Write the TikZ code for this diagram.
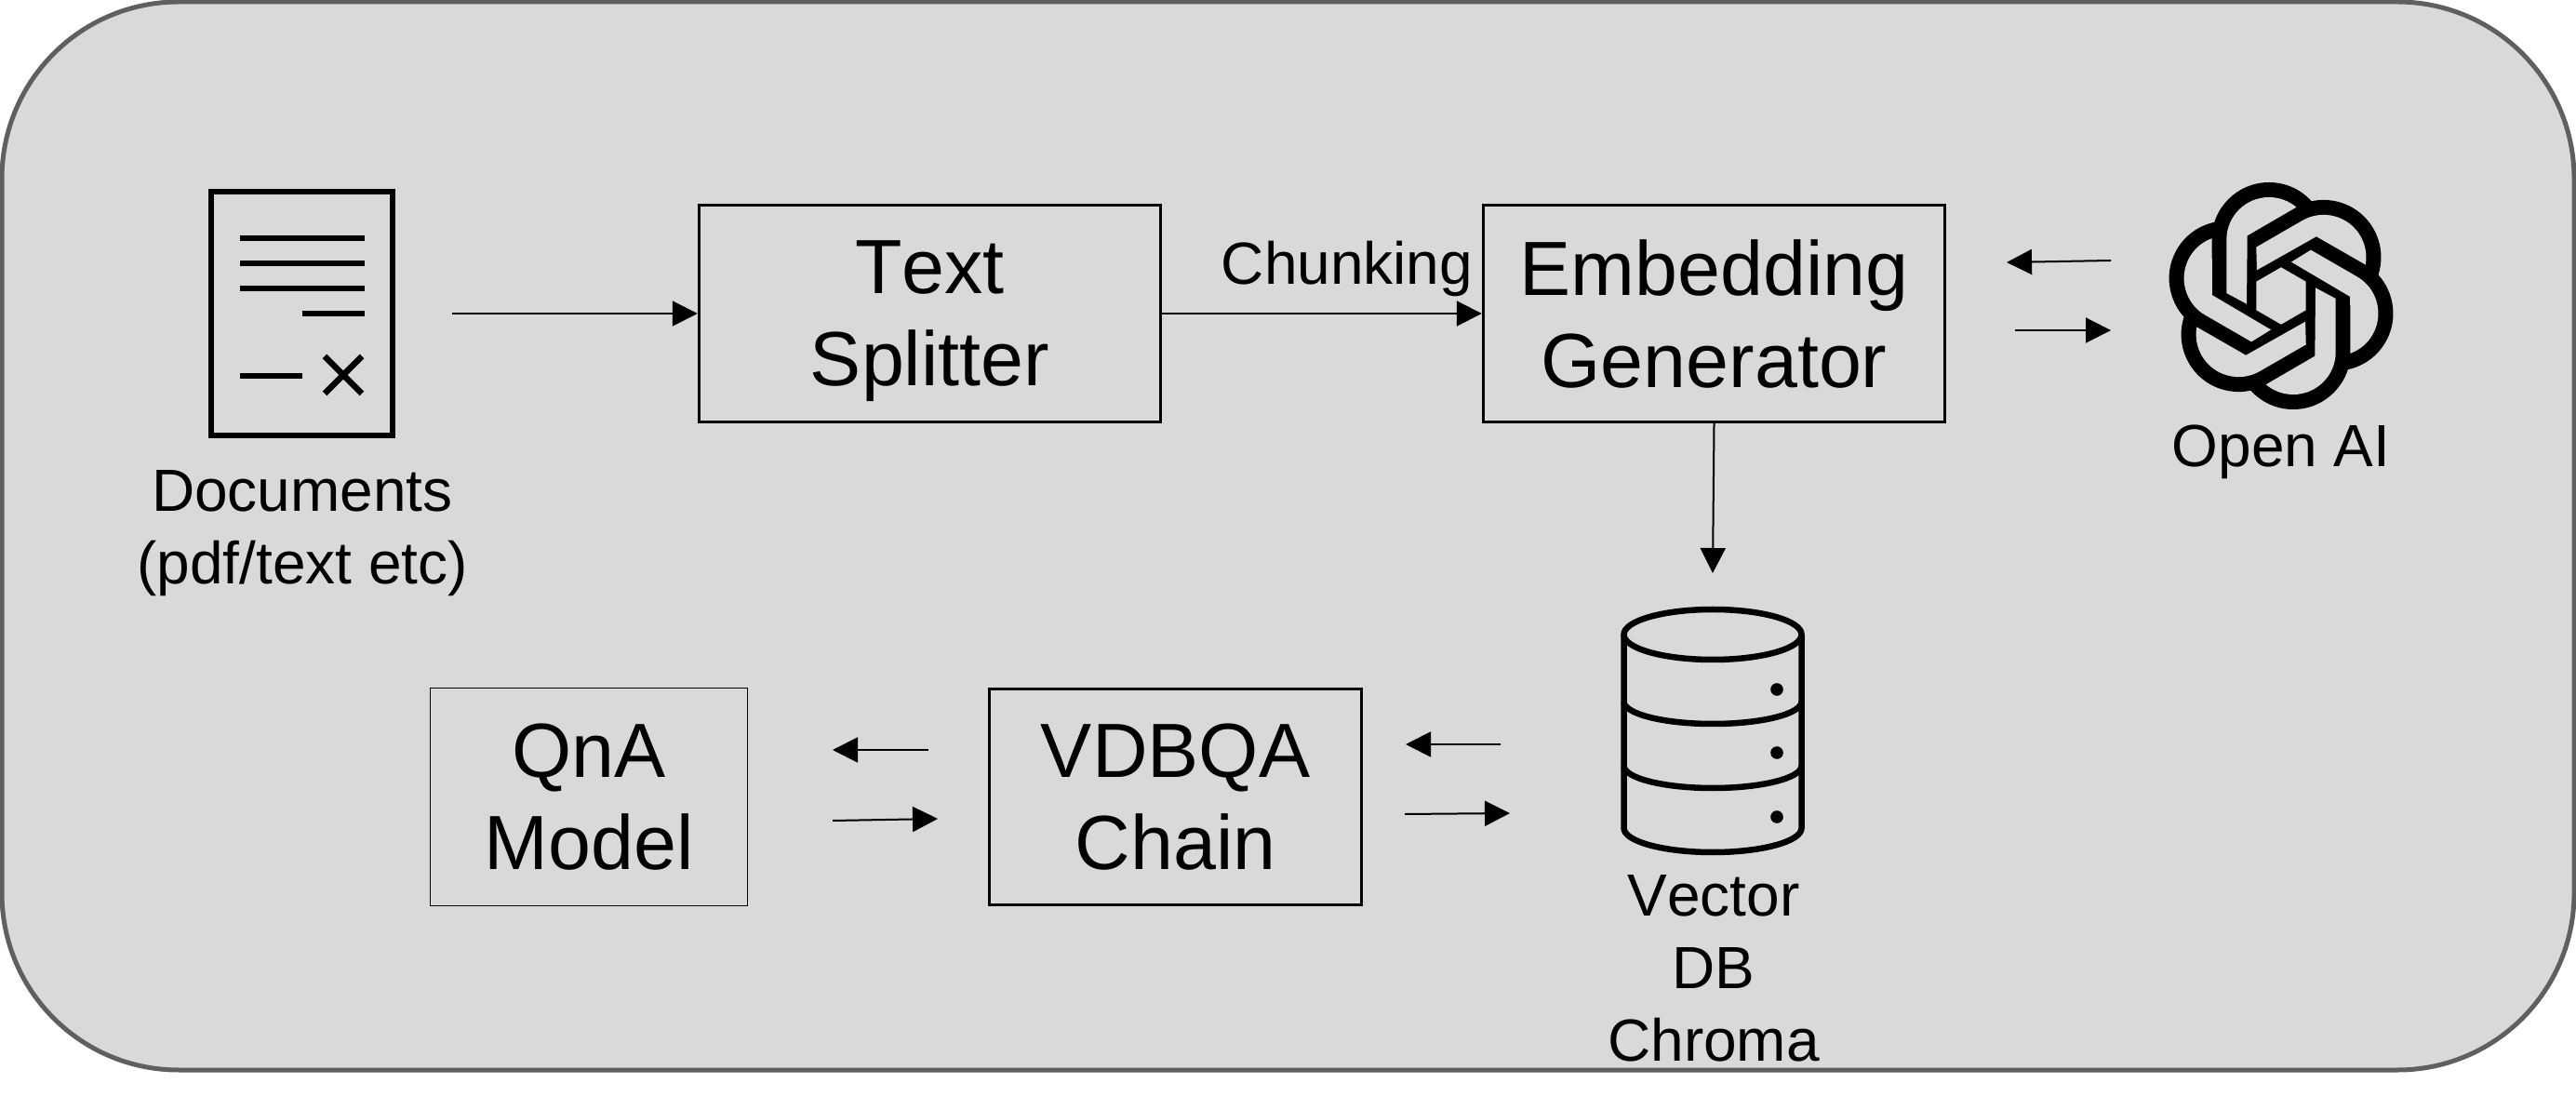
\documentclass[tikz,border=0pt]{standalone}
\usepackage{fontspec}
\setmainfont[Kerning=Off]{Liberation Sans}
\usetikzlibrary{arrows.meta}
\definecolor{panelgray}{HTML}{D9D9D9}
\definecolor{panelline}{HTML}{5F5F5F}
\tikzset{
  stepbox/.style={draw,line width=0.03cm,inner sep=0pt,align=center,text depth=0pt,font=\fontsize{23.5}{28.2}\selectfont},
  caption/.style={inner sep=0pt,align=center,font=\fontsize{18.2}{22.2}\selectfont},
  flow/.style={-{Triangle[length=0.27cm,width=0.27cm]},line width=0.02cm},
  icon/.style={line width=0.065cm}
}
\begin{document}
\begin{tikzpicture}
  \useasboundingbox (0,0) rectangle (27.69,11.92);
  \draw[fill=panelgray,draw=panelline,line width=0.05cm,rounded corners=1.9cm](0.02,0.42) rectangle (27.67,11.9);
  % document icon
  \node[draw,icon,minimum width=1.95cm,minimum height=2.62cm,inner sep=0pt] (doc) at (3.245,8.55){};
  \foreach \y in {9.36,9.09,8.82}
    \draw[icon] (2.58,\y)--(3.92,\y);
  \draw[icon] (3.25,8.55)--(3.92,8.55);
  \draw[icon] (2.58,7.88)--(3.25,7.88);
  \draw[icon] (3.49,8.09)--(3.89,7.69);
  \draw[icon] (3.49,7.69)--(3.89,8.09);
  \node[caption] (doclabel) at (3.25,6.19){Documents\\(pdf/text etc)};
  % boxes
  \node[stepbox,minimum width=4.965cm,minimum height=2.33cm] (splitter) at (9.995,8.55){Text\\Splitter};
  \node[stepbox,minimum width=4.965cm,minimum height=2.33cm] (embedding) at (18.425,8.55){Embedding\\Generator};
  \node[stepbox,minimum width=4.0cm,minimum height=2.32cm] (chain) at (12.635,3.355){VDBQA\\Chain};
  \node[stepbox,line width=0.01cm,minimum width=3.41cm,minimum height=2.33cm] (qna) at (6.33,3.355){QnA\\Model};
  \node[caption] (chunking) at (14.48,9.03){Chunking};
  % open ai logo
  \begin{scope}[shift={(24.52,8.74)}]
    \foreach \a in {0,60,...,300}
      \fill[rotate=\a] (-0.13,0.603) circle (0.617);
    \foreach \a in {0,60,...,300}
      \fill[panelgray,rotate=\a] (-0.587,0.03)--(-0.587,0.603) arc[start angle=180,end angle=50,radius=0.457]--(-0.363,0.647)--(-0.37,-0.087)--cycle;
    \fill[panelgray] (90:0.307)--(150:0.307)--(210:0.307)--(270:0.307)--(330:0.307)--(30:0.307)--cycle;
  \end{scope}
  \node[caption] (ailabel) at (24.52,7.06){Open AI};
  % database icon
  \draw[icon] (18.41,5.10) ellipse (0.955 and 0.27);
  \draw[icon] (17.455,5.10)--(17.455,3.02) arc[start angle=180,end angle=360,x radius=0.955,y radius=0.26]--(19.365,5.10);
  \draw[icon] (17.455,4.38) arc[start angle=180,end angle=360,x radius=0.955,y radius=0.24];
  \draw[icon] (17.455,3.69) arc[start angle=180,end angle=360,x radius=0.955,y radius=0.24];
  \foreach \y in {4.51,3.83,3.14}
    \fill (19.10,\y) circle (0.068);
  \node[caption] (dblabel) at (18.42,1.51){Vector\\DB\\Chroma};
  % free ends
  \coordinate (docout) at (4.86,8.55);
  \coordinate (dbin) at (18.41,5.76);
  \coordinate (aiback) at (22.69,9.12);
  \coordinate (aibackend) at (21.57,9.10);
  \coordinate (aiout) at (21.66,8.37);
  \coordinate (aioutend) at (22.69,8.37);
  \coordinate (dbback) at (16.13,3.92);
  \coordinate (dbbackend) at (15.11,3.92);
  \coordinate (dbout) at (15.10,3.17);
  \coordinate (dboutend) at (16.23,3.18);
  \coordinate (chainback) at (9.98,3.86);
  \coordinate (chainbackend) at (8.95,3.86);
  \coordinate (chainout) at (8.95,3.10);
  \coordinate (chainoutend) at (10.08,3.12);
  % arrows
  \draw[flow] (docout)--(splitter.west);
  \draw[flow] (splitter.east)--(embedding.west);
  \draw[flow] (embedding.south)--(dbin);
  \draw[flow] (aiback)--(aibackend);
  \draw[flow] (aiout)--(aioutend);
  \draw[flow] (dbback)--(dbbackend);
  \draw[flow] (dbout)--(dboutend);
  \draw[flow] (chainback)--(chainbackend);
  \draw[flow] (chainout)--(chainoutend);
\end{tikzpicture}
\end{document}
